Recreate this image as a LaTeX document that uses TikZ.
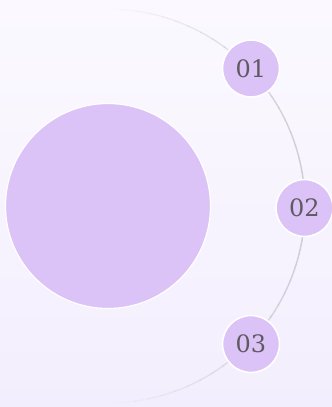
\documentclass[tikz,border=0pt]{standalone}
\usepackage{fontspec}
\usetikzlibrary{calc}
\newfontfamily\numfont{DejaVu Serif}
\definecolor{bgtop}{HTML}{FBF9FF}
\definecolor{bgbot}{HTML}{F3EEFD}
\definecolor{lav}{HTML}{DCC3F7}
\definecolor{arcgray}{HTML}{D0CDD4}
\definecolor{numcol}{HTML}{5F5962}
\tikzset{
  stepdot/.style={circle, fill=lav, draw=white, line width=1.6pt, minimum size=57pt, inner sep=0pt,
    font=\numfont\fontsize{24}{24}\selectfont, text=numcol},
  bigdot/.style={circle, fill=lav, draw=white, line width=1.2pt, minimum size=205pt, inner sep=0pt}
}
\begin{document}
\begin{tikzpicture}[x=1pt,y=-1pt]
\useasboundingbox (0,0) rectangle (332,407);
\shade[top color=bgtop, bottom color=bgbot] (0,0) rectangle (332,407);
\coordinate (c) at (108,206);
\foreach \a in {-90,-86,...,86}{
  \pgfmathsetmacro{\op}{max(0.02,cos(\a+2))^1.1}
  \draw[arcgray, line width=1.4pt, opacity=\op] ($(c)+(\a:197)$) arc[start angle=\a, end angle=\a+4.3, radius=197];
}
\node[bigdot] (big) at (c) {};
\node[stepdot] (s1) at (251,68.5) {01};
\node[stepdot] (s2) at (304.5,208) {02};
\node[stepdot] (s3) at (251,344) {03};
\end{tikzpicture}
\end{document}
